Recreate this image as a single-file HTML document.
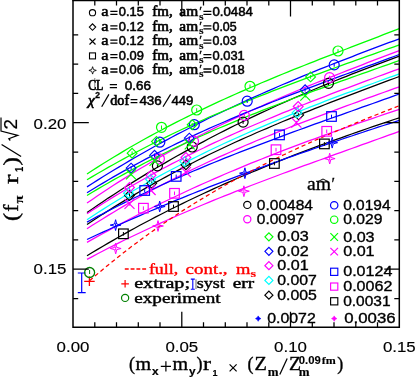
<!DOCTYPE html>
<html><head><meta charset="utf-8"><title>chart</title>
<style>html,body{margin:0;padding:0;background:#fff;font-family:"Liberation Sans",sans-serif}svg{display:block;will-change:transform;opacity:0.999}text{white-space:pre}</style></head>
<body>
<svg width="415" height="379" viewBox="0 0 415 379">
<rect width="415" height="379" fill="#fff"/>
<clipPath id="c"><rect x="73.0" y="0" width="326.3" height="327.2"/></clipPath>
<g fill="none" stroke-width="1.25" clip-path="url(#c)">
<path d="M87.0 174.0L92.3 170.5L97.6 167.1L102.9 163.8L108.2 160.5L113.5 157.2L118.8 154.1L124.1 150.9L129.3 147.8L134.6 144.8L139.9 141.8L145.2 138.8L150.5 135.9L155.8 133.0L161.1 130.2L166.4 127.4L171.7 124.6L177.0 121.9L182.3 119.2L187.6 116.6L192.9 114.0L198.2 111.4L203.5 108.9L208.7 106.4L214.0 103.9L219.3 101.4L224.6 99.0L229.9 96.6L235.2 94.3L240.5 91.9L245.8 89.6L251.1 87.3L256.4 85.1L261.7 82.8L267.0 80.6L272.3 78.4L277.6 76.2L282.8 74.0L288.1 71.9L293.4 69.7L298.7 67.6L304.0 65.5L309.3 63.4L314.6 61.3L319.9 59.2L325.2 57.2L330.5 55.1L335.8 53.1L341.1 51.0L346.4 49.0L351.7 46.9L357.0 44.9L362.2 42.9L367.5 40.8L372.8 38.8L378.1 36.8L383.4 34.7L388.7 32.7L394.0 30.7L399.3 28.6" stroke="#00ff00"/>
<path d="M87.0 186.9L92.3 183.5L97.6 180.1L102.9 176.8L108.2 173.5L113.5 170.3L118.8 167.1L124.1 164.0L129.3 160.9L134.6 157.8L139.9 154.7L145.2 151.7L150.5 148.8L155.8 145.8L161.1 142.9L166.4 140.1L171.7 137.2L177.0 134.4L182.3 131.7L187.6 129.0L192.9 126.3L198.2 123.6L203.5 120.9L208.7 118.3L214.0 115.8L219.3 113.2L224.6 110.7L229.9 108.2L235.2 105.7L240.5 103.3L245.8 100.8L251.1 98.4L256.4 96.1L261.7 93.7L267.0 91.4L272.3 89.1L277.6 86.8L282.8 84.5L288.1 82.3L293.4 80.1L298.7 77.9L304.0 75.7L309.3 73.5L314.6 71.4L319.9 69.2L325.2 67.1L330.5 65.0L335.8 62.9L341.1 60.9L346.4 58.8L351.7 56.8L357.0 54.7L362.2 52.7L367.5 50.7L372.8 48.7L378.1 46.7L383.4 44.7L388.7 42.7L394.0 40.8L399.3 38.8" stroke="#0000ff"/>
<path d="M87.0 203.0L92.3 199.4L97.6 195.8L102.9 192.2L108.2 188.7L113.5 185.3L118.8 181.9L124.1 178.6L129.3 175.3L134.6 172.0L139.9 168.8L145.2 165.7L150.5 162.5L155.8 159.5L161.1 156.4L166.4 153.5L171.7 150.5L177.0 147.6L182.3 144.8L187.6 141.9L192.9 139.2L198.2 136.4L203.5 133.7L208.7 131.0L214.0 128.4L219.3 125.8L224.6 123.2L229.9 120.6L235.2 118.1L240.5 115.6L245.8 113.2L251.1 110.8L256.4 108.4L261.7 106.0L267.0 103.6L272.3 101.3L277.6 99.0L282.8 96.7L288.1 94.5L293.4 92.3L298.7 90.0L304.0 87.9L309.3 85.7L314.6 83.5L319.9 81.4L325.2 79.3L330.5 77.2L335.8 75.1L341.1 73.0L346.4 70.9L351.7 68.8L357.0 66.8L362.2 64.8L367.5 62.7L372.8 60.7L378.1 58.7L383.4 56.7L388.7 54.7L394.0 52.7L399.3 50.7" stroke="#ff00ff"/>
<path d="M87.0 212.5L92.3 208.9L97.6 205.3L102.9 201.7L108.2 198.1L113.5 194.7L118.8 191.2L124.1 187.8L129.3 184.5L134.6 181.1L139.9 177.9L145.2 174.6L150.5 171.4L155.8 168.3L161.1 165.2L166.4 162.1L171.7 159.0L177.0 156.0L182.3 153.1L187.6 150.1L192.9 147.3L198.2 144.4L203.5 141.6L208.7 138.8L214.0 136.0L219.3 133.3L224.6 130.6L229.9 127.9L235.2 125.3L240.5 122.7L245.8 120.1L251.1 117.6L256.4 115.1L261.7 112.6L267.0 110.2L272.3 107.7L277.6 105.3L282.8 103.0L288.1 100.6L293.4 98.3L298.7 96.0L304.0 93.7L309.3 91.5L314.6 89.2L319.9 87.0L325.2 84.8L330.5 82.7L335.8 80.5L341.1 78.4L346.4 76.3L351.7 74.2L357.0 72.2L362.2 70.1L367.5 68.1L372.8 66.1L378.1 64.1L383.4 62.1L388.7 60.1L394.0 58.2L399.3 56.2" stroke="#000000"/>
<path d="M87.0 179.8L92.3 176.6L97.6 173.5L102.9 170.5L108.2 167.4L113.5 164.5L118.8 161.5L124.1 158.6L129.3 155.8L134.6 153.0L139.9 150.2L145.2 147.5L150.5 144.8L155.8 142.1L161.1 139.5L166.4 136.9L171.7 134.3L177.0 131.8L182.3 129.3L187.6 126.9L192.9 124.4L198.2 122.1L203.5 119.7L208.7 117.3L214.0 115.0L219.3 112.8L224.6 110.5L229.9 108.3L235.2 106.1L240.5 103.9L245.8 101.7L251.1 99.6L256.4 97.4L261.7 95.3L267.0 93.3L272.3 91.2L277.6 89.1L282.8 87.1L288.1 85.1L293.4 83.1L298.7 81.1L304.0 79.1L309.3 77.2L314.6 75.2L319.9 73.3L325.2 71.4L330.5 69.4L335.8 67.5L341.1 65.6L346.4 63.7L351.7 61.8L357.0 59.9L362.2 58.1L367.5 56.2L372.8 54.3L378.1 52.4L383.4 50.5L388.7 48.7L394.0 46.8L399.3 44.9" stroke="#00ff00"/>
<path d="M87.0 192.7L92.3 189.5L97.6 186.3L102.9 183.1L108.2 180.0L113.5 176.9L118.8 173.9L124.1 170.9L129.3 168.0L134.6 165.1L139.9 162.2L145.2 159.4L150.5 156.6L155.8 153.9L161.1 151.2L166.4 148.6L171.7 146.0L177.0 143.4L182.3 140.9L187.6 138.3L192.9 135.9L198.2 133.4L203.5 131.0L208.7 128.6L214.0 126.3L219.3 124.0L224.6 121.7L229.9 119.4L235.2 117.1L240.5 114.9L245.8 112.7L251.1 110.5L256.4 108.4L261.7 106.3L267.0 104.1L272.3 102.0L277.6 100.0L282.8 97.9L288.1 95.8L293.4 93.8L298.7 91.8L304.0 89.8L309.3 87.8L314.6 85.8L319.9 83.8L325.2 81.8L330.5 79.9L335.8 77.9L341.1 75.9L346.4 74.0L351.7 72.1L357.0 70.1L362.2 68.2L367.5 66.2L372.8 64.3L378.1 62.3L383.4 60.4L388.7 58.4L394.0 56.5L399.3 54.5" stroke="#0000ff"/>
<path d="M87.0 213.8L92.3 210.3L97.6 206.9L102.9 203.5L108.2 200.2L113.5 196.9L118.8 193.7L124.1 190.5L129.3 187.4L134.6 184.3L139.9 181.3L145.2 178.3L150.5 175.3L155.8 172.4L161.1 169.5L166.4 166.7L171.7 163.9L177.0 161.2L182.3 158.5L187.6 155.8L192.9 153.1L198.2 150.5L203.5 148.0L208.7 145.4L214.0 142.9L219.3 140.5L224.6 138.0L229.9 135.6L235.2 133.2L240.5 130.9L245.8 128.5L251.1 126.2L256.4 124.0L261.7 121.7L267.0 119.5L272.3 117.3L277.6 115.1L282.8 112.9L288.1 110.8L293.4 108.7L298.7 106.5L304.0 104.5L309.3 102.4L314.6 100.3L319.9 98.3L325.2 96.3L330.5 94.2L335.8 92.2L341.1 90.2L346.4 88.3L351.7 86.3L357.0 84.3L362.2 82.4L367.5 80.4L372.8 78.5L378.1 76.5L383.4 74.6L388.7 72.6L394.0 70.7L399.3 68.8" stroke="#ff00ff"/>
<path d="M87.0 219.7L92.3 216.2L97.6 212.8L102.9 209.4L108.2 206.0L113.5 202.7L118.8 199.5L124.1 196.3L129.3 193.1L134.6 190.0L139.9 187.0L145.2 184.0L150.5 181.0L155.8 178.0L161.1 175.1L166.4 172.3L171.7 169.5L177.0 166.7L182.3 164.0L187.6 161.3L192.9 158.6L198.2 156.0L203.5 153.4L208.7 150.8L214.0 148.3L219.3 145.8L224.6 143.3L229.9 140.9L235.2 138.5L240.5 136.1L245.8 133.8L251.1 131.4L256.4 129.1L261.7 126.9L267.0 124.6L272.3 122.4L277.6 120.2L282.8 118.0L288.1 115.8L293.4 113.7L298.7 111.6L304.0 109.5L309.3 107.4L314.6 105.3L319.9 103.3L325.2 101.2L330.5 99.2L335.8 97.2L341.1 95.2L346.4 93.2L351.7 91.3L357.0 89.3L362.2 87.3L367.5 85.4L372.8 83.5L378.1 81.5L383.4 79.6L388.7 77.7L394.0 75.8L399.3 73.8" stroke="#00ffff"/>
<path d="M87.0 224.6L92.3 221.1L97.6 217.6L102.9 214.1L108.2 210.8L113.5 207.4L118.8 204.1L124.1 200.9L129.3 197.7L134.6 194.6L139.9 191.5L145.2 188.4L150.5 185.4L155.8 182.4L161.1 179.5L166.4 176.6L171.7 173.7L177.0 170.9L182.3 168.1L187.6 165.4L192.9 162.7L198.2 160.0L203.5 157.4L208.7 154.8L214.0 152.3L219.3 149.7L224.6 147.2L229.9 144.8L235.2 142.3L240.5 139.9L245.8 137.5L251.1 135.2L256.4 132.8L261.7 130.5L267.0 128.3L272.3 126.0L277.6 123.8L282.8 121.5L288.1 119.3L293.4 117.2L298.7 115.0L304.0 112.9L309.3 110.8L314.6 108.7L319.9 106.6L325.2 104.5L330.5 102.4L335.8 100.4L341.1 98.4L346.4 96.3L351.7 94.3L357.0 92.3L362.2 90.3L367.5 88.3L372.8 86.3L378.1 84.4L383.4 82.4L388.7 80.4L394.0 78.5L399.3 76.5" stroke="#000000"/>
<path d="M87.0 195.5L92.3 192.3L97.6 189.1L102.9 186.0L108.2 183.0L113.5 179.9L118.8 177.0L124.1 174.1L129.3 171.2L134.6 168.4L139.9 165.6L145.2 162.8L150.5 160.1L155.8 157.4L161.1 154.8L166.4 152.2L171.7 149.6L177.0 147.1L182.3 144.6L187.6 142.1L192.9 139.7L198.2 137.3L203.5 135.0L208.7 132.6L214.0 130.3L219.3 128.0L224.6 125.8L229.9 123.6L235.2 121.4L240.5 119.2L245.8 117.0L251.1 114.9L256.4 112.8L261.7 110.7L267.0 108.6L272.3 106.6L277.6 104.5L282.8 102.5L288.1 100.5L293.4 98.5L298.7 96.5L304.0 94.6L309.3 92.6L314.6 90.7L319.9 88.8L325.2 86.9L330.5 85.0L335.8 83.1L341.1 81.2L346.4 79.3L351.7 77.4L357.0 75.5L362.2 73.6L367.5 71.8L372.8 69.9L378.1 68.0L383.4 66.1L388.7 64.3L394.0 62.4L399.3 60.5" stroke="#00ff00"/>
<path d="M87.0 228.7L92.3 225.3L97.6 222.0L102.9 218.7L108.2 215.4L113.5 212.2L118.8 209.0L124.1 205.9L129.3 202.8L134.6 199.8L139.9 196.8L145.2 193.9L150.5 191.0L155.8 188.2L161.1 185.4L166.4 182.6L171.7 179.9L177.0 177.2L182.3 174.5L187.6 171.9L192.9 169.3L198.2 166.8L203.5 164.3L208.7 161.8L214.0 159.4L219.3 156.9L224.6 154.6L229.9 152.2L235.2 149.9L240.5 147.6L245.8 145.3L251.1 143.1L256.4 140.8L261.7 138.6L267.0 136.5L272.3 134.3L277.6 132.2L282.8 130.1L288.1 128.0L293.4 125.9L298.7 123.8L304.0 121.8L309.3 119.8L314.6 117.8L319.9 115.8L325.2 113.8L330.5 111.8L335.8 109.8L341.1 107.9L346.4 105.9L351.7 104.0L357.0 102.1L362.2 100.2L367.5 98.2L372.8 96.3L378.1 94.4L383.4 92.5L388.7 90.6L394.0 88.7L399.3 86.8" stroke="#ff00ff"/>
<path d="M87.0 222.1L92.3 219.2L97.6 216.4L102.9 213.7L108.2 210.9L113.5 208.2L118.8 205.5L124.1 202.9L129.3 200.3L134.6 197.7L139.9 195.2L145.2 192.7L150.5 190.2L155.8 187.7L161.1 185.3L166.4 182.9L171.7 180.5L177.0 178.2L182.3 175.9L187.6 173.6L192.9 171.3L198.2 169.1L203.5 166.9L208.7 164.7L214.0 162.5L219.3 160.4L224.6 158.2L229.9 156.1L235.2 154.0L240.5 151.9L245.8 149.9L251.1 147.8L256.4 145.8L261.7 143.8L267.0 141.8L272.3 139.8L277.6 137.8L282.8 135.8L288.1 133.9L293.4 131.9L298.7 130.0L304.0 128.1L309.3 126.2L314.6 124.2L319.9 122.3L325.2 120.4L330.5 118.5L335.8 116.7L341.1 114.8L346.4 112.9L351.7 111.0L357.0 109.1L362.2 107.2L367.5 105.4L372.8 103.5L378.1 101.6L383.4 99.7L388.7 97.8L394.0 95.9L399.3 94.0" stroke="#0000ff"/>
<path d="M87.0 242.4L92.3 239.4L97.6 236.4L102.9 233.5L108.2 230.6L113.5 227.7L118.8 224.9L124.1 222.1L129.3 219.3L134.6 216.5L139.9 213.8L145.2 211.1L150.5 208.5L155.8 205.9L161.1 203.3L166.4 200.7L171.7 198.2L177.0 195.7L182.3 193.2L187.6 190.7L192.9 188.3L198.2 185.9L203.5 183.5L208.7 181.2L214.0 178.9L219.3 176.6L224.6 174.3L229.9 172.0L235.2 169.8L240.5 167.6L245.8 165.4L251.1 163.2L256.4 161.1L261.7 159.0L267.0 156.9L272.3 154.8L277.6 152.7L282.8 150.7L288.1 148.7L293.4 146.6L298.7 144.7L304.0 142.7L309.3 140.7L314.6 138.8L319.9 136.8L325.2 134.9L330.5 133.0L335.8 131.1L341.1 129.3L346.4 127.4L351.7 125.6L357.0 123.7L362.2 121.9L367.5 120.1L372.8 118.3L378.1 116.5L383.4 114.7L388.7 112.9L394.0 111.2L399.3 109.4" stroke="#ff00ff"/>
<path d="M87.0 255.7L92.3 252.5L97.6 249.4L102.9 246.2L108.2 243.1L113.5 240.1L118.8 237.0L124.1 234.1L129.3 231.1L134.6 228.2L139.9 225.3L145.2 222.5L150.5 219.7L155.8 216.9L161.1 214.2L166.4 211.5L171.7 208.8L177.0 206.2L182.3 203.6L187.6 201.0L192.9 198.5L198.2 196.0L203.5 193.5L208.7 191.1L214.0 188.6L219.3 186.3L224.6 183.9L229.9 181.6L235.2 179.2L240.5 177.0L245.8 174.7L251.1 172.5L256.4 170.3L261.7 168.1L267.0 165.9L272.3 163.8L277.6 161.7L282.8 159.6L288.1 157.5L293.4 155.4L298.7 153.4L304.0 151.4L309.3 149.4L314.6 147.4L319.9 145.4L325.2 143.5L330.5 141.6L335.8 139.7L341.1 137.8L346.4 135.9L351.7 134.0L357.0 132.2L362.2 130.3L367.5 128.5L372.8 126.7L378.1 124.9L383.4 123.1L388.7 121.3L394.0 119.5L399.3 117.8" stroke="#000000"/>
<path d="M87.0 239.5L92.3 237.0L97.6 234.5L102.9 232.1L108.2 229.7L113.5 227.3L118.8 224.9L124.1 222.5L129.3 220.2L134.6 217.9L139.9 215.6L145.2 213.3L150.5 211.0L155.8 208.8L161.1 206.5L166.4 204.3L171.7 202.1L177.0 199.9L182.3 197.8L187.6 195.6L192.9 193.5L198.2 191.4L203.5 189.3L208.7 187.2L214.0 185.2L219.3 183.1L224.6 181.1L229.9 179.1L235.2 177.1L240.5 175.1L245.8 173.1L251.1 171.1L256.4 169.2L261.7 167.3L267.0 165.3L272.3 163.4L277.6 161.5L282.8 159.6L288.1 157.7L293.4 155.9L298.7 154.0L304.0 152.2L309.3 150.3L314.6 148.5L319.9 146.7L325.2 144.9L330.5 143.1L335.8 141.3L341.1 139.5L346.4 137.7L351.7 136.0L357.0 134.2L362.2 132.5L367.5 130.7L372.8 129.0L378.1 127.2L383.4 125.5L388.7 123.8L394.0 122.1L399.3 120.4" stroke="#0000ff"/>
<path d="M87.0 259.4L92.3 256.6L97.6 253.8L102.9 251.0L108.2 248.3L113.5 245.6L118.8 242.9L124.1 240.3L129.3 237.7L134.6 235.2L139.9 232.7L145.2 230.2L150.5 227.7L155.8 225.3L161.1 222.9L166.4 220.5L171.7 218.1L177.0 215.8L182.3 213.5L187.6 211.2L192.9 209.0L198.2 206.7L203.5 204.5L208.7 202.3L214.0 200.2L219.3 198.0L224.6 195.9L229.9 193.8L235.2 191.7L240.5 189.6L245.8 187.6L251.1 185.5L256.4 183.5L261.7 181.5L267.0 179.5L272.3 177.5L277.6 175.5L282.8 173.5L288.1 171.6L293.4 169.6L298.7 167.7L304.0 165.7L309.3 163.8L314.6 161.9L319.9 160.0L325.2 158.1L330.5 156.2L335.8 154.2L341.1 152.3L346.4 150.4L351.7 148.5L357.0 146.6L362.2 144.7L367.5 142.8L372.8 140.9L378.1 139.0L383.4 137.1L388.7 135.2L394.0 133.3L399.3 131.3" stroke="#ff00ff"/>
<path d="M89.5 280.8L94.8 276.2L100.0 271.8L105.3 267.4L110.5 263.1L115.8 258.9L121.0 254.7L126.3 250.6L131.5 246.6L136.8 242.7L142.0 238.8L147.3 234.9L152.5 231.2L157.8 227.5L163.0 223.9L168.3 220.3L173.5 216.8L178.8 213.3L184.0 209.9L189.3 206.6L194.5 203.3L199.8 200.1L205.0 196.9L210.3 193.8L215.5 190.7L220.8 187.7L226.0 184.7L231.3 181.8L236.5 178.9L241.8 176.0L247.0 173.2L252.3 170.5L257.5 167.8L262.8 165.1L268.0 162.4L273.3 159.8L278.5 157.3L283.8 154.8L289.0 152.3L294.3 149.8L299.5 147.4L304.8 145.0L310.0 142.6L315.3 140.3L320.5 138.0L325.8 135.7L331.0 133.4L336.3 131.2L341.5 129.0L346.8 126.8L352.0 124.6L357.3 122.4L362.5 120.3L367.8 118.2L373.0 116.1L378.3 114.0L383.5 111.9L388.8 109.8L394.0 107.8L399.3 105.7" stroke="#ff0000" stroke-dasharray="4.2 3"/>
</g>
<g>
<circle cx="157.4" cy="165.9" r="5.0" fill="none" stroke="#000000" stroke-width="1.2"/>
<path d="M157.4 164.1V167.7" stroke="#000000" stroke-width="1.0"/>
<circle cx="192.2" cy="147.0" r="5.0" fill="none" stroke="#000000" stroke-width="1.2"/>
<path d="M192.2 145.2V148.8" stroke="#000000" stroke-width="1.0"/>
<circle cx="243.1" cy="122.1" r="5.0" fill="none" stroke="#000000" stroke-width="1.2"/>
<path d="M243.1 120.3V123.9" stroke="#000000" stroke-width="1.0"/>
<circle cx="328.5" cy="83.3" r="5.0" fill="none" stroke="#000000" stroke-width="1.2"/>
<path d="M328.5 81.5V85.1" stroke="#000000" stroke-width="1.0"/>
<path d="M124.6 195.4L129.5 190.5L134.4 195.4L129.5 200.3Z" fill="none" stroke="#000000" stroke-width="1.15"/>
<path d="M129.5 193.6V197.2" stroke="#000000" stroke-width="1.0"/>
<path d="M146.8 183.3L151.7 178.4L156.6 183.3L151.7 188.2Z" fill="none" stroke="#000000" stroke-width="1.15"/>
<path d="M151.7 181.5V185.1" stroke="#000000" stroke-width="1.0"/>
<path d="M181.0 164.8L185.9 159.9L190.8 164.8L185.9 169.7Z" fill="none" stroke="#000000" stroke-width="1.15"/>
<path d="M185.9 163.0V166.6" stroke="#000000" stroke-width="1.0"/>
<path d="M293.8 114.9L298.7 110.0L303.6 114.9L298.7 119.8Z" fill="none" stroke="#000000" stroke-width="1.15"/>
<path d="M298.7 113.1V116.7" stroke="#000000" stroke-width="1.0"/>
<rect x="118.6" y="229.0" width="9.6" height="9.6" fill="none" stroke="#000000" stroke-width="1.2"/>
<path d="M123.4 232.0V235.6" stroke="#000000" stroke-width="1.0"/>
<rect x="168.7" y="201.7" width="9.6" height="9.6" fill="none" stroke="#000000" stroke-width="1.2"/>
<path d="M173.5 204.7V208.3" stroke="#000000" stroke-width="1.0"/>
<rect x="269.6" y="158.7" width="9.6" height="9.6" fill="none" stroke="#000000" stroke-width="1.2"/>
<path d="M274.4 161.7V165.3" stroke="#000000" stroke-width="1.0"/>
<rect x="319.6" y="139.1" width="9.6" height="9.6" fill="none" stroke="#000000" stroke-width="1.2"/>
<path d="M324.4 142.1V145.7" stroke="#000000" stroke-width="1.0"/>
<path d="M123.6 193.2L128.5 188.3L133.4 193.2L128.5 198.1Z" fill="none" stroke="#00ffff" stroke-width="1.15"/>
<path d="M128.5 191.4V195.0" stroke="#00ffff" stroke-width="1.0"/>
<path d="M145.7 179.5L150.6 174.6L155.5 179.5L150.6 184.4Z" fill="none" stroke="#00ffff" stroke-width="1.15"/>
<path d="M150.6 177.7V181.3" stroke="#00ffff" stroke-width="1.0"/>
<path d="M179.9 161.6L184.8 156.7L189.7 161.6L184.8 166.5Z" fill="none" stroke="#00ffff" stroke-width="1.15"/>
<path d="M184.8 159.8V163.4" stroke="#00ffff" stroke-width="1.0"/>
<path d="M292.1 112.8L297.0 107.9L301.9 112.8L297.0 117.7Z" fill="none" stroke="#00ffff" stroke-width="1.15"/>
<path d="M297.0 111.0V114.6" stroke="#00ffff" stroke-width="1.0"/>
<circle cx="159.4" cy="158.8" r="5.0" fill="none" stroke="#ff00ff" stroke-width="1.2"/>
<path d="M159.4 157.0V160.6" stroke="#ff00ff" stroke-width="1.0"/>
<circle cx="193.5" cy="141.2" r="5.0" fill="none" stroke="#ff00ff" stroke-width="1.2"/>
<path d="M193.5 139.4V143.0" stroke="#ff00ff" stroke-width="1.0"/>
<circle cx="244.3" cy="115.4" r="5.0" fill="none" stroke="#ff00ff" stroke-width="1.2"/>
<path d="M244.3 113.6V117.2" stroke="#ff00ff" stroke-width="1.0"/>
<circle cx="329.6" cy="77.6" r="5.0" fill="none" stroke="#ff00ff" stroke-width="1.2"/>
<path d="M329.6 75.8V79.4" stroke="#ff00ff" stroke-width="1.0"/>
<path d="M124.6 187.5L129.5 182.6L134.4 187.5L129.5 192.4Z" fill="none" stroke="#ff00ff" stroke-width="1.15"/>
<path d="M129.5 185.7V189.3" stroke="#ff00ff" stroke-width="1.0"/>
<path d="M146.1 175.3L151.0 170.4L155.9 175.3L151.0 180.2Z" fill="none" stroke="#ff00ff" stroke-width="1.15"/>
<path d="M151.0 173.5V177.1" stroke="#ff00ff" stroke-width="1.0"/>
<path d="M181.0 157.4L185.9 152.5L190.8 157.4L185.9 162.3Z" fill="none" stroke="#ff00ff" stroke-width="1.15"/>
<path d="M185.9 155.6V159.2" stroke="#ff00ff" stroke-width="1.0"/>
<path d="M293.3 106.5L298.2 101.6L303.1 106.5L298.2 111.4Z" fill="none" stroke="#ff00ff" stroke-width="1.15"/>
<path d="M298.2 104.7V108.3" stroke="#ff00ff" stroke-width="1.0"/>
<path d="M124.5 198.8L134.5 208.8M124.5 208.8L134.5 198.8" fill="none" stroke="#ff00ff" stroke-width="1.2"/>
<path d="M129.5 202.0V205.6" stroke="#ff00ff" stroke-width="1.0"/>
<path d="M145.6 185.0L155.6 195.0M145.6 195.0L155.6 185.0" fill="none" stroke="#ff00ff" stroke-width="1.2"/>
<path d="M150.6 188.2V191.8" stroke="#ff00ff" stroke-width="1.0"/>
<path d="M180.9 167.2L190.9 177.2M180.9 177.2L190.9 167.2" fill="none" stroke="#ff00ff" stroke-width="1.2"/>
<path d="M185.9 170.4V174.0" stroke="#ff00ff" stroke-width="1.0"/>
<path d="M291.4 117.7L301.4 127.7M291.4 127.7L301.4 117.7" fill="none" stroke="#ff00ff" stroke-width="1.2"/>
<path d="M296.4 120.9V124.5" stroke="#ff00ff" stroke-width="1.0"/>
<rect x="138.6" y="203.4" width="9.6" height="9.6" fill="none" stroke="#ff00ff" stroke-width="1.2"/>
<path d="M143.4 206.4V210.0" stroke="#ff00ff" stroke-width="1.0"/>
<rect x="169.7" y="188.5" width="9.6" height="9.6" fill="none" stroke="#ff00ff" stroke-width="1.2"/>
<path d="M174.5 191.5V195.1" stroke="#ff00ff" stroke-width="1.0"/>
<rect x="271.2" y="144.9" width="9.6" height="9.6" fill="none" stroke="#ff00ff" stroke-width="1.2"/>
<path d="M276.0 147.9V151.5" stroke="#ff00ff" stroke-width="1.0"/>
<rect x="321.9" y="126.5" width="9.6" height="9.6" fill="none" stroke="#ff00ff" stroke-width="1.2"/>
<path d="M326.7 129.5V133.1" stroke="#ff00ff" stroke-width="1.0"/>
<path d="M115.7 243.1L116.8 247.4L121.1 248.5L116.8 249.6L115.7 253.9L114.6 249.6L110.3 248.5L114.6 247.4Z" fill="none" stroke="#ff00ff" stroke-width="1.0" stroke-linejoin="miter"/>
<path d="M115.7 246.7V250.3" stroke="#ff00ff" stroke-width="1.0"/>
<path d="M158.0 220.6L159.1 224.9L163.4 226.0L159.1 227.1L158.0 231.4L156.9 227.1L152.6 226.0L156.9 224.9Z" fill="none" stroke="#ff00ff" stroke-width="1.0" stroke-linejoin="miter"/>
<path d="M158.0 224.2V227.8" stroke="#ff00ff" stroke-width="1.0"/>
<path d="M243.9 185.8L245.0 190.1L249.3 191.2L245.0 192.3L243.9 196.6L242.8 192.3L238.5 191.2L242.8 190.1Z" fill="none" stroke="#ff00ff" stroke-width="1.0" stroke-linejoin="miter"/>
<path d="M243.9 189.4V193.0" stroke="#ff00ff" stroke-width="1.0"/>
<path d="M329.7 153.2L330.8 157.5L335.1 158.6L330.8 159.7L329.7 164.0L328.6 159.7L324.3 158.6L328.6 157.5Z" fill="none" stroke="#ff00ff" stroke-width="1.0" stroke-linejoin="miter"/>
<path d="M329.7 156.8V160.4" stroke="#ff00ff" stroke-width="1.0"/>
<circle cx="159.8" cy="142.2" r="5.0" fill="none" stroke="#0000ff" stroke-width="1.2"/>
<path d="M159.8 140.4V144.0" stroke="#0000ff" stroke-width="1.0"/>
<circle cx="194.3" cy="124.7" r="5.0" fill="none" stroke="#0000ff" stroke-width="1.2"/>
<path d="M194.3 122.9V126.5" stroke="#0000ff" stroke-width="1.0"/>
<circle cx="247.2" cy="101.2" r="5.0" fill="none" stroke="#0000ff" stroke-width="1.2"/>
<path d="M247.2 99.4V103.0" stroke="#0000ff" stroke-width="1.0"/>
<circle cx="334.2" cy="64.9" r="5.0" fill="none" stroke="#0000ff" stroke-width="1.2"/>
<path d="M334.2 63.1V66.7" stroke="#0000ff" stroke-width="1.0"/>
<path d="M126.2 168.1L131.1 163.2L136.0 168.1L131.1 173.0Z" fill="none" stroke="#0000ff" stroke-width="1.15"/>
<path d="M131.1 166.3V169.9" stroke="#0000ff" stroke-width="1.0"/>
<path d="M149.6 155.3L154.5 150.4L159.4 155.3L154.5 160.2Z" fill="none" stroke="#0000ff" stroke-width="1.15"/>
<path d="M154.5 153.5V157.1" stroke="#0000ff" stroke-width="1.0"/>
<path d="M184.4 138.1L189.3 133.2L194.2 138.1L189.3 143.0Z" fill="none" stroke="#0000ff" stroke-width="1.15"/>
<path d="M189.3 136.3V139.9" stroke="#0000ff" stroke-width="1.0"/>
<path d="M300.2 89.8L305.1 84.9L310.0 89.8L305.1 94.7Z" fill="none" stroke="#0000ff" stroke-width="1.15"/>
<path d="M305.1 88.0V91.6" stroke="#0000ff" stroke-width="1.0"/>
<rect x="139.9" y="185.7" width="9.6" height="9.6" fill="none" stroke="#0000ff" stroke-width="1.2"/>
<path d="M144.7 188.7V192.3" stroke="#0000ff" stroke-width="1.0"/>
<rect x="171.4" y="171.6" width="9.6" height="9.6" fill="none" stroke="#0000ff" stroke-width="1.2"/>
<path d="M176.2 174.6V178.2" stroke="#0000ff" stroke-width="1.0"/>
<rect x="274.7" y="130.1" width="9.6" height="9.6" fill="none" stroke="#0000ff" stroke-width="1.2"/>
<path d="M279.5 133.1V136.7" stroke="#0000ff" stroke-width="1.0"/>
<rect x="326.7" y="111.7" width="9.6" height="9.6" fill="none" stroke="#0000ff" stroke-width="1.2"/>
<path d="M331.5 114.7V118.3" stroke="#0000ff" stroke-width="1.0"/>
<path d="M115.6 219.7L116.7 224.0L121.0 225.1L116.7 226.2L115.6 230.5L114.5 226.2L110.2 225.1L114.5 224.0Z" fill="none" stroke="#0000ff" stroke-width="1.0" stroke-linejoin="miter"/>
<path d="M115.6 223.3V226.9" stroke="#0000ff" stroke-width="1.0"/>
<path d="M159.7 201.1L160.8 205.4L165.1 206.5L160.8 207.6L159.7 211.9L158.6 207.6L154.3 206.5L158.6 205.4Z" fill="none" stroke="#0000ff" stroke-width="1.0" stroke-linejoin="miter"/>
<path d="M159.7 204.7V208.3" stroke="#0000ff" stroke-width="1.0"/>
<path d="M244.9 167.8L246.0 172.1L250.3 173.2L246.0 174.3L244.9 178.6L243.8 174.3L239.5 173.2L243.8 172.1Z" fill="none" stroke="#0000ff" stroke-width="1.0" stroke-linejoin="miter"/>
<path d="M244.9 171.4V175.0" stroke="#0000ff" stroke-width="1.0"/>
<path d="M332.2 137.3L333.3 141.6L337.6 142.7L333.3 143.8L332.2 148.1L331.1 143.8L326.8 142.7L331.1 141.6Z" fill="none" stroke="#0000ff" stroke-width="1.0" stroke-linejoin="miter"/>
<path d="M332.2 140.9V144.5" stroke="#0000ff" stroke-width="1.0"/>
<circle cx="161.5" cy="127.3" r="5.0" fill="none" stroke="#00ff00" stroke-width="1.2"/>
<path d="M161.5 125.5V129.1" stroke="#00ff00" stroke-width="1.0"/>
<circle cx="196.7" cy="110.0" r="5.0" fill="none" stroke="#00ff00" stroke-width="1.2"/>
<path d="M196.7 108.2V111.8" stroke="#00ff00" stroke-width="1.0"/>
<circle cx="250.0" cy="86.3" r="5.0" fill="none" stroke="#00ff00" stroke-width="1.2"/>
<path d="M250.0 84.5V88.1" stroke="#00ff00" stroke-width="1.0"/>
<circle cx="338.0" cy="51.0" r="5.0" fill="none" stroke="#00ff00" stroke-width="1.2"/>
<path d="M338.0 49.2V52.8" stroke="#00ff00" stroke-width="1.0"/>
<path d="M127.2 153.2L132.1 148.3L137.0 153.2L132.1 158.1Z" fill="none" stroke="#00ff00" stroke-width="1.15"/>
<path d="M132.1 151.4V155.0" stroke="#00ff00" stroke-width="1.0"/>
<path d="M151.6 141.4L156.5 136.5L161.4 141.4L156.5 146.3Z" fill="none" stroke="#00ff00" stroke-width="1.15"/>
<path d="M156.5 139.6V143.2" stroke="#00ff00" stroke-width="1.0"/>
<path d="M187.3 124.7L192.2 119.8L197.1 124.7L192.2 129.6Z" fill="none" stroke="#00ff00" stroke-width="1.15"/>
<path d="M192.2 122.9V126.5" stroke="#00ff00" stroke-width="1.0"/>
<path d="M305.7 76.9L310.6 72.0L315.5 76.9L310.6 81.8Z" fill="none" stroke="#00ff00" stroke-width="1.15"/>
<path d="M310.6 75.1V78.7" stroke="#00ff00" stroke-width="1.0"/>
<path d="M126.0 169.4L136.0 179.4M126.0 179.4L136.0 169.4" fill="none" stroke="#00ff00" stroke-width="1.2"/>
<path d="M131.0 172.6V176.2" stroke="#00ff00" stroke-width="1.0"/>
<path d="M149.5 155.8L159.5 165.8M149.5 165.8L159.5 155.8" fill="none" stroke="#00ff00" stroke-width="1.2"/>
<path d="M154.5 159.0V162.6" stroke="#00ff00" stroke-width="1.0"/>
<path d="M184.7 139.4L194.7 149.4M184.7 149.4L194.7 139.4" fill="none" stroke="#00ff00" stroke-width="1.2"/>
<path d="M189.7 142.6V146.2" stroke="#00ff00" stroke-width="1.0"/>
<path d="M300.3 90.7L310.3 100.7M300.3 100.7L310.3 90.7" fill="none" stroke="#00ff00" stroke-width="1.2"/>
<path d="M305.3 93.9V97.5" stroke="#00ff00" stroke-width="1.0"/>
</g>
<path d="M81.7 273V292.7M77.8 273H85.7M77.8 292.7H85.7" stroke="#0000ff" stroke-width="1.2" fill="none"/>
<path d="M84.2 281.3H94.7M89.4 276.6V286.1" stroke="#ff0000" stroke-width="1.3" fill="none"/>
<circle cx="89.6" cy="272.5" r="5.0" fill="none" stroke="#008000" stroke-width="1.3"/>
<path d="M89.6 270.0V274.0" stroke="#008000" stroke-width="1.0"/>
<g stroke="#000" stroke-width="1.5" fill="none">
<path d="M73.0 0V327.2H399.3V0"/>
<path d="M72.4 0.4H399.90000000000003"/>
<path d="M94.8 327.2v-5M94.8 0.4v5.2M116.5 327.2v-5M116.5 0.4v5.2M138.3 327.2v-5M138.3 0.4v5.2M160.0 327.2v-5M160.0 0.4v5.2M181.8 327.2v-15.5M181.8 0.4v16M203.5 327.2v-5M203.5 0.4v5.2M225.3 327.2v-5M225.3 0.4v5.2M247.0 327.2v-5M247.0 0.4v5.2M268.8 327.2v-5M268.8 0.4v5.2M290.5 327.2v-15.5M290.5 0.4v16M312.3 327.2v-5M312.3 0.4v5.2M334.0 327.2v-5M334.0 0.4v5.2M355.8 327.2v-5M355.8 0.4v5.2M377.5 327.2v-5M377.5 0.4v5.2M73.0 298.5h5.2M399.3 298.5h-5M73.0 269.2h15.8M399.3 269.2h-15M73.0 239.9h5.2M399.3 239.9h-5M73.0 210.6h5.2M399.3 210.6h-5M73.0 181.3h5.2M399.3 181.3h-5M73.0 152.0h5.2M399.3 152.0h-5M73.0 122.7h15.8M399.3 122.7h-15M73.0 93.4h5.2M399.3 93.4h-5M73.0 64.1h5.2M399.3 64.1h-5M73.0 34.8h5.2M399.3 34.8h-5" stroke-width="1.25"/>
</g>
<text x="73.0" y="351.5" font-family="Liberation Sans" font-size="15.2" font-weight="normal" fill="#000" text-anchor="middle" textLength="32.8" lengthAdjust="spacingAndGlyphs" stroke="#000" stroke-width="0.15">0.00</text>
<text x="181.8" y="351.5" font-family="Liberation Sans" font-size="15.2" font-weight="normal" fill="#000" text-anchor="middle" textLength="32.8" lengthAdjust="spacingAndGlyphs" stroke="#000" stroke-width="0.15">0.05</text>
<text x="290.5" y="351.5" font-family="Liberation Sans" font-size="15.2" font-weight="normal" fill="#000" text-anchor="middle" textLength="32.8" lengthAdjust="spacingAndGlyphs" stroke="#000" stroke-width="0.15">0.10</text>
<text x="399.3" y="351.5" font-family="Liberation Sans" font-size="15.2" font-weight="normal" fill="#000" text-anchor="middle" textLength="32.8" lengthAdjust="spacingAndGlyphs" stroke="#000" stroke-width="0.15">0.15</text>
<text x="50.0" y="128.5" font-family="Liberation Sans" font-size="15.2" font-weight="normal" fill="#000" text-anchor="middle" textLength="32.8" lengthAdjust="spacingAndGlyphs" stroke="#000" stroke-width="0.15">0.20</text>
<text x="50.0" y="274.3" font-family="Liberation Sans" font-size="15.2" font-weight="normal" fill="#000" text-anchor="middle" textLength="32.8" lengthAdjust="spacingAndGlyphs" stroke="#000" stroke-width="0.15">0.15</text>
<circle cx="92.5" cy="12.7" r="3.1" fill="none" stroke="#000000" stroke-width="1.1"/>
<text x="101.3" y="16.4" font-family="Liberation Serif" font-size="14.5" font-weight="normal" fill="#000" text-anchor="start" textLength="7.3" lengthAdjust="spacingAndGlyphs" stroke="#000" stroke-width="0.5">a</text>
<path d="M110.3 11.4h7.2M110.3 14.4h7.2" stroke="#000" stroke-width="1.3" fill="none"/>
<text x="118.8" y="16.4" font-family="Liberation Sans" font-size="12.0" font-weight="normal" fill="#000" text-anchor="start" textLength="25.0" lengthAdjust="spacingAndGlyphs" stroke="#000" stroke-width="0.5">0.15</text>
<text x="152.3" y="16.4" font-family="Liberation Serif" font-size="14.5" font-weight="normal" fill="#000" text-anchor="start" textLength="20.4" lengthAdjust="spacingAndGlyphs" stroke="#000" stroke-width="0.65">fm,</text>
<text x="179.3" y="16.4" font-family="Liberation Serif" font-size="14.5" font-weight="normal" fill="#000" text-anchor="start" textLength="18.8" lengthAdjust="spacingAndGlyphs" stroke="#000" stroke-width="0.65">am</text>
<text x="199.2" y="15.4" font-family="Liberation Serif" font-size="13" font-weight="normal" fill="#000" text-anchor="start" stroke="#000" stroke-width="0.4">′</text>
<text x="199.0" y="19.8" font-family="Liberation Serif" font-size="9.5" font-weight="bold" fill="#000" text-anchor="start" textLength="4.6" lengthAdjust="spacingAndGlyphs" stroke="#000" stroke-width="0.1">s</text>
<path d="M203.4 11.4h8.0M203.4 14.4h8.0" stroke="#000" stroke-width="1.3" fill="none"/>
<text x="212.5" y="16.4" font-family="Liberation Sans" font-size="12.0" font-weight="normal" fill="#000" text-anchor="start" textLength="40.3" lengthAdjust="spacingAndGlyphs" stroke="#000" stroke-width="0.5">0.0484</text>
<path d="M89.3 27.1L92.5 23.9L95.7 27.1L92.5 30.3Z" fill="none" stroke="#000000" stroke-width="1.1"/>
<text x="101.3" y="30.8" font-family="Liberation Serif" font-size="14.5" font-weight="normal" fill="#000" text-anchor="start" textLength="7.3" lengthAdjust="spacingAndGlyphs" stroke="#000" stroke-width="0.5">a</text>
<path d="M110.3 25.8h7.2M110.3 28.8h7.2" stroke="#000" stroke-width="1.3" fill="none"/>
<text x="118.8" y="30.8" font-family="Liberation Sans" font-size="12.0" font-weight="normal" fill="#000" text-anchor="start" textLength="25.0" lengthAdjust="spacingAndGlyphs" stroke="#000" stroke-width="0.5">0.12</text>
<text x="152.3" y="30.8" font-family="Liberation Serif" font-size="14.5" font-weight="normal" fill="#000" text-anchor="start" textLength="20.4" lengthAdjust="spacingAndGlyphs" stroke="#000" stroke-width="0.65">fm,</text>
<text x="179.3" y="30.8" font-family="Liberation Serif" font-size="14.5" font-weight="normal" fill="#000" text-anchor="start" textLength="18.8" lengthAdjust="spacingAndGlyphs" stroke="#000" stroke-width="0.65">am</text>
<text x="199.2" y="29.8" font-family="Liberation Serif" font-size="13" font-weight="normal" fill="#000" text-anchor="start" stroke="#000" stroke-width="0.4">′</text>
<text x="199.0" y="34.2" font-family="Liberation Serif" font-size="9.5" font-weight="bold" fill="#000" text-anchor="start" textLength="4.6" lengthAdjust="spacingAndGlyphs" stroke="#000" stroke-width="0.1">s</text>
<path d="M203.4 25.8h8.0M203.4 28.8h8.0" stroke="#000" stroke-width="1.3" fill="none"/>
<text x="212.5" y="30.8" font-family="Liberation Sans" font-size="12.0" font-weight="normal" fill="#000" text-anchor="start" textLength="24.2" lengthAdjust="spacingAndGlyphs" stroke="#000" stroke-width="0.5">0.05</text>
<path d="M89.5 38.5L95.5 44.5M89.5 44.5L95.5 38.5" fill="none" stroke="#000000" stroke-width="1.1"/>
<text x="101.3" y="45.2" font-family="Liberation Serif" font-size="14.5" font-weight="normal" fill="#000" text-anchor="start" textLength="7.3" lengthAdjust="spacingAndGlyphs" stroke="#000" stroke-width="0.5">a</text>
<path d="M110.3 40.2h7.2M110.3 43.2h7.2" stroke="#000" stroke-width="1.3" fill="none"/>
<text x="118.8" y="45.2" font-family="Liberation Sans" font-size="12.0" font-weight="normal" fill="#000" text-anchor="start" textLength="25.0" lengthAdjust="spacingAndGlyphs" stroke="#000" stroke-width="0.5">0.12</text>
<text x="152.3" y="45.2" font-family="Liberation Serif" font-size="14.5" font-weight="normal" fill="#000" text-anchor="start" textLength="20.4" lengthAdjust="spacingAndGlyphs" stroke="#000" stroke-width="0.65">fm,</text>
<text x="179.3" y="45.2" font-family="Liberation Serif" font-size="14.5" font-weight="normal" fill="#000" text-anchor="start" textLength="18.8" lengthAdjust="spacingAndGlyphs" stroke="#000" stroke-width="0.65">am</text>
<text x="199.2" y="44.2" font-family="Liberation Serif" font-size="13" font-weight="normal" fill="#000" text-anchor="start" stroke="#000" stroke-width="0.4">′</text>
<text x="199.0" y="48.6" font-family="Liberation Serif" font-size="9.5" font-weight="bold" fill="#000" text-anchor="start" textLength="4.6" lengthAdjust="spacingAndGlyphs" stroke="#000" stroke-width="0.1">s</text>
<path d="M203.4 40.2h8.0M203.4 43.2h8.0" stroke="#000" stroke-width="1.3" fill="none"/>
<text x="212.5" y="45.2" font-family="Liberation Sans" font-size="12.0" font-weight="normal" fill="#000" text-anchor="start" textLength="24.2" lengthAdjust="spacingAndGlyphs" stroke="#000" stroke-width="0.5">0.03</text>
<rect x="89.5" y="52.9" width="6.0" height="6.0" fill="none" stroke="#000000" stroke-width="1.1"/>
<text x="101.3" y="59.6" font-family="Liberation Serif" font-size="14.5" font-weight="normal" fill="#000" text-anchor="start" textLength="7.3" lengthAdjust="spacingAndGlyphs" stroke="#000" stroke-width="0.5">a</text>
<path d="M110.3 54.6h7.2M110.3 57.6h7.2" stroke="#000" stroke-width="1.3" fill="none"/>
<text x="118.8" y="59.6" font-family="Liberation Sans" font-size="12.0" font-weight="normal" fill="#000" text-anchor="start" textLength="25.0" lengthAdjust="spacingAndGlyphs" stroke="#000" stroke-width="0.5">0.09</text>
<text x="152.3" y="59.6" font-family="Liberation Serif" font-size="14.5" font-weight="normal" fill="#000" text-anchor="start" textLength="20.4" lengthAdjust="spacingAndGlyphs" stroke="#000" stroke-width="0.65">fm,</text>
<text x="179.3" y="59.6" font-family="Liberation Serif" font-size="14.5" font-weight="normal" fill="#000" text-anchor="start" textLength="18.8" lengthAdjust="spacingAndGlyphs" stroke="#000" stroke-width="0.65">am</text>
<text x="199.2" y="58.6" font-family="Liberation Serif" font-size="13" font-weight="normal" fill="#000" text-anchor="start" stroke="#000" stroke-width="0.4">′</text>
<text x="199.0" y="63.0" font-family="Liberation Serif" font-size="9.5" font-weight="bold" fill="#000" text-anchor="start" textLength="4.6" lengthAdjust="spacingAndGlyphs" stroke="#000" stroke-width="0.1">s</text>
<path d="M203.4 54.6h8.0M203.4 57.6h8.0" stroke="#000" stroke-width="1.3" fill="none"/>
<text x="212.5" y="59.6" font-family="Liberation Sans" font-size="12.0" font-weight="normal" fill="#000" text-anchor="start" textLength="32.2" lengthAdjust="spacingAndGlyphs" stroke="#000" stroke-width="0.5">0.031</text>
<path d="M92.6 66.7L93.5 69.5L96.3 70.4L93.5 71.3L92.6 74.1L91.7 71.3L88.9 70.4L91.7 69.5Z" fill="none" stroke="#000000" stroke-width="0.85" stroke-linejoin="miter"/>
<text x="101.3" y="74.0" font-family="Liberation Serif" font-size="14.5" font-weight="normal" fill="#000" text-anchor="start" textLength="7.3" lengthAdjust="spacingAndGlyphs" stroke="#000" stroke-width="0.5">a</text>
<path d="M110.3 69.0h7.2M110.3 72.0h7.2" stroke="#000" stroke-width="1.3" fill="none"/>
<text x="118.8" y="74.0" font-family="Liberation Sans" font-size="12.0" font-weight="normal" fill="#000" text-anchor="start" textLength="25.0" lengthAdjust="spacingAndGlyphs" stroke="#000" stroke-width="0.5">0.06</text>
<text x="152.3" y="74.0" font-family="Liberation Serif" font-size="14.5" font-weight="normal" fill="#000" text-anchor="start" textLength="20.4" lengthAdjust="spacingAndGlyphs" stroke="#000" stroke-width="0.65">fm,</text>
<text x="179.3" y="74.0" font-family="Liberation Serif" font-size="14.5" font-weight="normal" fill="#000" text-anchor="start" textLength="18.8" lengthAdjust="spacingAndGlyphs" stroke="#000" stroke-width="0.65">am</text>
<text x="199.2" y="73.0" font-family="Liberation Serif" font-size="13" font-weight="normal" fill="#000" text-anchor="start" stroke="#000" stroke-width="0.4">′</text>
<text x="199.0" y="77.4" font-family="Liberation Serif" font-size="9.5" font-weight="bold" fill="#000" text-anchor="start" textLength="4.6" lengthAdjust="spacingAndGlyphs" stroke="#000" stroke-width="0.1">s</text>
<path d="M203.4 69.0h8.0M203.4 72.0h8.0" stroke="#000" stroke-width="1.3" fill="none"/>
<text x="212.5" y="74.0" font-family="Liberation Sans" font-size="12.0" font-weight="normal" fill="#000" text-anchor="start" textLength="32.2" lengthAdjust="spacingAndGlyphs" stroke="#000" stroke-width="0.5">0.018</text>
<text x="88.2" y="89.6" font-family="Liberation Serif" font-size="14.5" font-weight="normal" fill="#000" text-anchor="start" textLength="15.2" lengthAdjust="spacingAndGlyphs" stroke="#000" stroke-width="0.7">CL</text>
<path d="M94.8 78V88.4" stroke="#000" stroke-width="0.5" fill="none"/>
<path d="M109.8 84.6h7.2M109.8 87.6h7.2" stroke="#000" stroke-width="1.3" fill="none"/>
<text x="124.8" y="89.6" font-family="Liberation Sans" font-size="12.0" font-weight="normal" fill="#000" text-anchor="start" textLength="26.2" lengthAdjust="spacingAndGlyphs" stroke="#000" stroke-width="0.5">0.66</text>
<text x="88.0" y="104.6" font-family="Liberation Serif" font-size="15" font-weight="normal" fill="#000" text-anchor="start" textLength="6.8" lengthAdjust="spacingAndGlyphs" stroke="#000" stroke-width="0.7" font-style="italic">χ</text>
<text x="95.2" y="98.4" font-family="Liberation Sans" font-size="8.5" font-weight="bold" fill="#000" text-anchor="start" stroke="#000" stroke-width="0.3">2</text>
<path d="M101.7 106.8L108.9 94.4" stroke="#000" stroke-width="1.2" fill="none"/>
<text x="110.3" y="104.6" font-family="Liberation Serif" font-size="14.5" font-weight="normal" fill="#000" text-anchor="start" textLength="18.8" lengthAdjust="spacingAndGlyphs" stroke="#000" stroke-width="0.7">dof</text>
<path d="M130.6 99.6h6.8M130.6 102.6h6.8" stroke="#000" stroke-width="1.3" fill="none"/>
<text x="139.4" y="104.6" font-family="Liberation Sans" font-size="12.0" font-weight="normal" fill="#000" text-anchor="start" textLength="22.4" lengthAdjust="spacingAndGlyphs" stroke="#000" stroke-width="0.5">436</text>
<path d="M163.0 106.8L170.6 94.4" stroke="#000" stroke-width="1.2" fill="none"/>
<text x="171.4" y="104.6" font-family="Liberation Sans" font-size="12.0" font-weight="normal" fill="#000" text-anchor="start" textLength="22.0" lengthAdjust="spacingAndGlyphs" stroke="#000" stroke-width="0.5">449</text>
<text x="307.0" y="190.1" font-family="Liberation Serif" font-size="18.5" font-weight="normal" fill="#000" text-anchor="start" textLength="24.0" lengthAdjust="spacingAndGlyphs" stroke="#000" stroke-width="0.3">am</text>
<path d="M318 181.6L323 179L328 181.6" fill="none" stroke="#000" stroke-width="1.0"/>
<text x="331.6" y="189.2" font-family="Liberation Serif" font-size="16" font-weight="normal" fill="#000" text-anchor="start" stroke="#000" stroke-width="0.3">′</text>
<circle cx="247.3" cy="204.9" r="3.6" fill="none" stroke="#000000" stroke-width="1.2"/>
<text x="256.8" y="209.8" font-family="Liberation Sans" font-size="14" font-weight="normal" fill="#000" text-anchor="start" textLength="56.2" lengthAdjust="spacingAndGlyphs" stroke="#000" stroke-width="0.35">0.00484</text>
<circle cx="247.3" cy="219.3" r="3.6" fill="none" stroke="#ff00ff" stroke-width="1.2"/>
<text x="256.8" y="224.2" font-family="Liberation Sans" font-size="14" font-weight="normal" fill="#000" text-anchor="start" textLength="47.4" lengthAdjust="spacingAndGlyphs" stroke="#000" stroke-width="0.35">0.0097</text>
<path d="M264.9 236.8L268.9 232.8L272.9 236.8L268.9 240.8Z" fill="none" stroke="#00ff00" stroke-width="1.2"/>
<text x="277.3" y="241.4" font-family="Liberation Sans" font-size="14" font-weight="normal" fill="#000" text-anchor="start" textLength="31.4" lengthAdjust="spacingAndGlyphs" stroke="#000" stroke-width="0.35">0.03</text>
<path d="M264.9 251.3L268.9 247.3L272.9 251.3L268.9 255.3Z" fill="none" stroke="#0000ff" stroke-width="1.2"/>
<text x="277.3" y="255.9" font-family="Liberation Sans" font-size="14" font-weight="normal" fill="#000" text-anchor="start" textLength="31.4" lengthAdjust="spacingAndGlyphs" stroke="#000" stroke-width="0.35">0.02</text>
<path d="M264.9 265.7L268.9 261.7L272.9 265.7L268.9 269.7Z" fill="none" stroke="#ff00ff" stroke-width="1.2"/>
<text x="277.3" y="270.3" font-family="Liberation Sans" font-size="14" font-weight="normal" fill="#000" text-anchor="start" textLength="31.4" lengthAdjust="spacingAndGlyphs" stroke="#000" stroke-width="0.35">0.01</text>
<path d="M264.9 280.4L268.9 276.4L272.9 280.4L268.9 284.4Z" fill="none" stroke="#00ffff" stroke-width="1.2"/>
<text x="277.3" y="285.0" font-family="Liberation Sans" font-size="14" font-weight="normal" fill="#000" text-anchor="start" textLength="39.6" lengthAdjust="spacingAndGlyphs" stroke="#000" stroke-width="0.35">0.007</text>
<path d="M264.9 295.2L268.9 291.2L272.9 295.2L268.9 299.2Z" fill="none" stroke="#000000" stroke-width="1.2"/>
<text x="277.3" y="299.8" font-family="Liberation Sans" font-size="14" font-weight="normal" fill="#000" text-anchor="start" textLength="39.6" lengthAdjust="spacingAndGlyphs" stroke="#000" stroke-width="0.35">0.005</text>
<circle cx="334.2" cy="205.3" r="3.7" fill="none" stroke="#0000ff" stroke-width="1.2"/>
<text x="343.2" y="209.9" font-family="Liberation Sans" font-size="14" font-weight="normal" fill="#000" text-anchor="start" textLength="47.4" lengthAdjust="spacingAndGlyphs" stroke="#000" stroke-width="0.35">0.0194</text>
<circle cx="334.2" cy="219.7" r="3.7" fill="none" stroke="#00ff00" stroke-width="1.2"/>
<text x="343.2" y="224.3" font-family="Liberation Sans" font-size="14" font-weight="normal" fill="#000" text-anchor="start" textLength="39.2" lengthAdjust="spacingAndGlyphs" stroke="#000" stroke-width="0.35">0.029</text>
<path d="M330.4 233.2L338.0 240.8M330.4 240.8L338.0 233.2" fill="none" stroke="#00ff00" stroke-width="1.2"/>
<text x="343.2" y="241.6" font-family="Liberation Sans" font-size="14" font-weight="normal" fill="#000" text-anchor="start" textLength="31.4" lengthAdjust="spacingAndGlyphs" stroke="#000" stroke-width="0.35">0.03</text>
<path d="M330.4 247.8L338.0 255.4M330.4 255.4L338.0 247.8" fill="none" stroke="#ff00ff" stroke-width="1.2"/>
<text x="343.2" y="256.2" font-family="Liberation Sans" font-size="14" font-weight="normal" fill="#000" text-anchor="start" textLength="31.4" lengthAdjust="spacingAndGlyphs" stroke="#000" stroke-width="0.35">0.01</text>
<rect x="330.6" y="268.2" width="7.2" height="7.2" fill="none" stroke="#0000ff" stroke-width="1.15"/>
<text x="343.2" y="276.4" font-family="Liberation Sans" font-size="14" font-weight="normal" fill="#000" text-anchor="start" textLength="49.2" lengthAdjust="spacingAndGlyphs" stroke="#000" stroke-width="0.35">0.0124</text>
<rect x="330.6" y="283.0" width="7.2" height="7.2" fill="none" stroke="#ff00ff" stroke-width="1.15"/>
<text x="343.2" y="291.2" font-family="Liberation Sans" font-size="14" font-weight="normal" fill="#000" text-anchor="start" textLength="49.2" lengthAdjust="spacingAndGlyphs" stroke="#000" stroke-width="0.35">0.0062</text>
<rect x="330.6" y="297.7" width="7.2" height="7.2" fill="none" stroke="#000000" stroke-width="1.15"/>
<text x="343.2" y="305.9" font-family="Liberation Sans" font-size="14" font-weight="normal" fill="#000" text-anchor="start" textLength="47.4" lengthAdjust="spacingAndGlyphs" stroke="#000" stroke-width="0.35">0.0031</text>
<path d="M258.2 315.9L259.2 317.6L260.9 318.6L259.2 319.6L258.2 321.3L257.2 319.6L255.5 318.6L257.2 317.6Z" fill="#0000ff" stroke="#0000ff" stroke-width="0.6" stroke-linejoin="miter"/>
<text x="267.2" y="323.2" font-family="Liberation Sans" font-size="14" font-weight="normal" fill="#000" text-anchor="start" textLength="48.6" lengthAdjust="spacingAndGlyphs" stroke="#000" stroke-width="0.35">0.0072</text>
<path d="M334.2 315.9L335.2 317.6L336.9 318.6L335.2 319.6L334.2 321.3L333.2 319.6L331.5 318.6L333.2 317.6Z" fill="#ff00ff" stroke="#ff00ff" stroke-width="0.6" stroke-linejoin="miter"/>
<text x="344.2" y="323.4" font-family="Liberation Sans" font-size="14" font-weight="normal" fill="#000" text-anchor="start" textLength="51.4" lengthAdjust="spacingAndGlyphs" stroke="#000" stroke-width="0.35">0.0036</text>
<path d="M124.8 269H147" stroke="#ff0000" stroke-width="1.3" stroke-dasharray="3.9 1.9" fill="none"/>
<text x="148.9" y="273.6" font-family="Liberation Serif" font-size="14.5" font-weight="normal" fill="#ff0000" text-anchor="start" textLength="29.2" lengthAdjust="spacingAndGlyphs" stroke="#ff0000" stroke-width="0.4">full,</text>
<text x="185.6" y="273.6" font-family="Liberation Serif" font-size="14.5" font-weight="normal" fill="#ff0000" text-anchor="start" textLength="42.0" lengthAdjust="spacingAndGlyphs" stroke="#ff0000" stroke-width="0.4">cont.,</text>
<text x="236.0" y="273.6" font-family="Liberation Serif" font-size="14.5" font-weight="normal" fill="#ff0000" text-anchor="start" textLength="14.4" lengthAdjust="spacingAndGlyphs" stroke="#ff0000" stroke-width="0.4">m</text>
<text x="250.6" y="277.2" font-family="Liberation Serif" font-size="10.5" font-weight="bold" fill="#ff0000" text-anchor="start" textLength="5.6" lengthAdjust="spacingAndGlyphs" stroke="#ff0000" stroke-width="0.1">s</text>
<path d="M121.3 283.8H128.9M125.1 280.1V287.5" stroke="#ff0000" stroke-width="1.2" fill="none"/>
<text x="134.2" y="288.0" font-family="Liberation Serif" font-size="14.5" font-weight="normal" fill="#000" text-anchor="start" textLength="55.8" lengthAdjust="spacingAndGlyphs" stroke="#000" stroke-width="0.4">extrap;</text>
<path d="M192.8 279.1V289.3M190.8 279.1H194.8M190.8 289.3H194.8" stroke="#0000ff" stroke-width="1.1" fill="none"/>
<path d="M196 279.4V289" stroke="#000" stroke-width="0.6" fill="none"/>
<text x="196.8" y="288.0" font-family="Liberation Serif" font-size="14.5" font-weight="normal" fill="#000" text-anchor="start" textLength="28.0" lengthAdjust="spacingAndGlyphs" stroke="#000" stroke-width="0.4">syst</text>
<text x="232.7" y="288.0" font-family="Liberation Serif" font-size="14.5" font-weight="normal" fill="#000" text-anchor="start" textLength="21.4" lengthAdjust="spacingAndGlyphs" stroke="#000" stroke-width="0.4">err</text>
<circle cx="125.1" cy="297.9" r="3.6" fill="none" stroke="#008000" stroke-width="1.2"/>
<text x="134.2" y="302.5" font-family="Liberation Serif" font-size="14.5" font-weight="normal" fill="#000" text-anchor="start" textLength="86.4" lengthAdjust="spacingAndGlyphs" stroke="#000" stroke-width="0.4">experiment</text>
<text x="129.0" y="370.2" font-family="Liberation Serif" font-size="18" font-weight="normal" fill="#000" text-anchor="start" stroke="#000" stroke-width="0.35">(</text>
<text x="135.6" y="370.2" font-family="Liberation Serif" font-size="18" font-weight="normal" fill="#000" text-anchor="start" textLength="15.6" lengthAdjust="spacingAndGlyphs" stroke="#000" stroke-width="0.35">m</text>
<text x="152.0" y="374.8" font-family="Liberation Sans" font-size="11.5" font-weight="bold" fill="#000" text-anchor="start" textLength="6.6" lengthAdjust="spacingAndGlyphs" stroke="#000" stroke-width="0.2">x</text>
<path d="M160.8 366.3H171M165.9 361.2V371.4" stroke="#000" stroke-width="1.2" fill="none"/>
<text x="172.5" y="370.2" font-family="Liberation Serif" font-size="18" font-weight="normal" fill="#000" text-anchor="start" textLength="15.6" lengthAdjust="spacingAndGlyphs" stroke="#000" stroke-width="0.35">m</text>
<text x="188.9" y="375.0" font-family="Liberation Sans" font-size="11.5" font-weight="bold" fill="#000" text-anchor="start" textLength="6.6" lengthAdjust="spacingAndGlyphs" stroke="#000" stroke-width="0.2">y</text>
<text x="196.6" y="370.2" font-family="Liberation Serif" font-size="18" font-weight="normal" fill="#000" text-anchor="start" stroke="#000" stroke-width="0.35">)</text>
<text x="203.0" y="370.2" font-family="Liberation Serif" font-size="18" font-weight="normal" fill="#000" text-anchor="start" textLength="8.0" lengthAdjust="spacingAndGlyphs" stroke="#000" stroke-width="0.35">r</text>
<text x="212.6" y="375.6" font-family="Liberation Sans" font-size="9.5" font-weight="bold" fill="#000" text-anchor="start" textLength="5.0" lengthAdjust="spacingAndGlyphs" stroke="#000" stroke-width="0.2">1</text>
<path d="M229.6 364.4L236.6 371.4M229.6 371.4L236.6 364.4" stroke="#000" stroke-width="1.2" fill="none"/>
<text x="247.6" y="370.2" font-family="Liberation Serif" font-size="18" font-weight="normal" fill="#000" text-anchor="start" stroke="#000" stroke-width="0.35">(</text>
<text x="254.4" y="370.2" font-family="Liberation Serif" font-size="18" font-weight="normal" fill="#000" text-anchor="start" textLength="12.4" lengthAdjust="spacingAndGlyphs" stroke="#000" stroke-width="0.35">Z</text>
<text x="267.8" y="375.6" font-family="Liberation Serif" font-size="11.5" font-weight="bold" fill="#000" text-anchor="start" textLength="10.8" lengthAdjust="spacingAndGlyphs" stroke="#000" stroke-width="0.15">m</text>
<path d="M279.8 374.4L287.2 358.6" stroke="#000" stroke-width="1.25" fill="none"/>
<text x="288.9" y="370.2" font-family="Liberation Serif" font-size="18" font-weight="normal" fill="#000" text-anchor="start" textLength="12.0" lengthAdjust="spacingAndGlyphs" stroke="#000" stroke-width="0.35">Z</text>
<text x="298.8" y="375.5" font-family="Liberation Serif" font-size="11.5" font-weight="bold" fill="#000" text-anchor="start" textLength="10.8" lengthAdjust="spacingAndGlyphs" stroke="#000" stroke-width="0.15">m</text>
<text x="298.8" y="364.0" font-family="Liberation Sans" font-size="10" font-weight="bold" fill="#000" text-anchor="start" textLength="22.0" lengthAdjust="spacingAndGlyphs" stroke="#000" stroke-width="0.1">0.09</text>
<text x="321.8" y="364.0" font-family="Liberation Serif" font-size="11" font-weight="bold" fill="#000" text-anchor="start" textLength="14.0" lengthAdjust="spacingAndGlyphs" stroke="#000" stroke-width="0.15">fm</text>
<text x="337.2" y="370.2" font-family="Liberation Serif" font-size="18" font-weight="normal" fill="#000" text-anchor="start" stroke="#000" stroke-width="0.35">)</text>
<g transform="translate(17.6 221) rotate(-90)">
<text x="0.0" y="0.0" font-family="Liberation Serif" font-size="20" font-weight="normal" fill="#000" text-anchor="start" textLength="8.0" lengthAdjust="spacingAndGlyphs" stroke="#000" stroke-width="0.4">(</text>
<text x="9.3" y="0.0" font-family="Liberation Serif" font-size="20" font-weight="normal" fill="#000" text-anchor="start" textLength="7.2" lengthAdjust="spacingAndGlyphs" stroke="#000" stroke-width="0.4">f</text>
<text x="17.6" y="5.2" font-family="Liberation Serif" font-size="12" font-weight="bold" fill="#000" text-anchor="start" textLength="8.0" lengthAdjust="spacingAndGlyphs" stroke="#000" stroke-width="0.15">π</text>
<text x="36.9" y="0.0" font-family="Liberation Serif" font-size="20" font-weight="normal" fill="#000" text-anchor="start" textLength="9.5" lengthAdjust="spacingAndGlyphs" stroke="#000" stroke-width="0.4">r</text>
<text x="49.2" y="5.2" font-family="Liberation Sans" font-size="11" font-weight="bold" fill="#000" text-anchor="start" textLength="5.0" lengthAdjust="spacingAndGlyphs" stroke="#000" stroke-width="0.15">1</text>
<text x="55.6" y="0.0" font-family="Liberation Serif" font-size="20" font-weight="normal" fill="#000" text-anchor="start" textLength="8.5" lengthAdjust="spacingAndGlyphs" stroke="#000" stroke-width="0.4">)</text>
<path d="M64.5 3.5L76.5 -16" stroke="#000" stroke-width="1.3" fill="none"/>
<path d="M80.5 -7.3L82.3 -8.8L85.7 0.2L90 -16.6H103.5" stroke="#000" stroke-width="1.2" fill="none"/>
<text x="91.4" y="-0.6" font-family="Liberation Sans" font-size="18.5" font-weight="normal" fill="#000" text-anchor="start" textLength="10.5" lengthAdjust="spacingAndGlyphs" stroke="#000" stroke-width="0.2">2</text>
</g>
</svg>
</body></html>
